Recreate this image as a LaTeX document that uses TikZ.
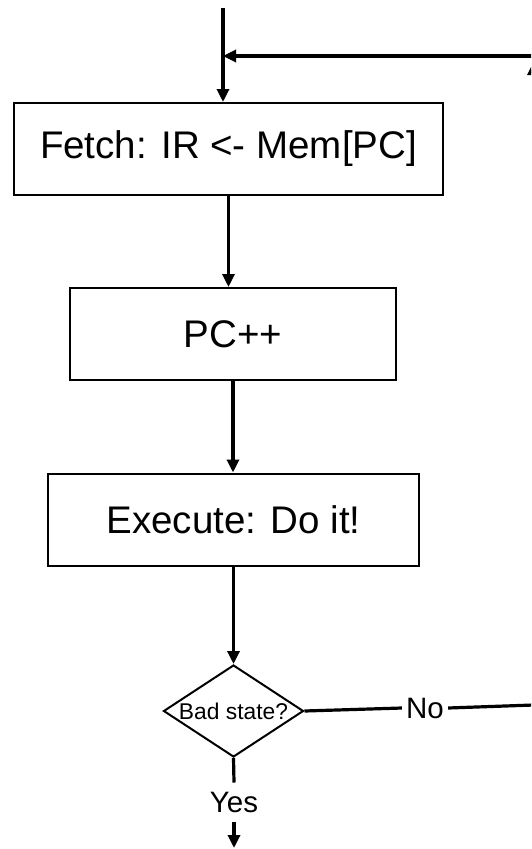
\documentclass[tikz,border=0pt]{standalone}
\usepackage{fontspec}
\setmainfont{Liberation Sans}
\usetikzlibrary{arrows.meta,shapes.geometric}

\tikzset{
  box/.style={draw, line width=2pt, minimum height=92pt, inner sep=0pt,
    font=\fontsize{38.5pt}{44pt}\selectfont},
  ask/.style={draw, diamond, shape aspect=1.52, line width=2pt, minimum width=140pt,
    minimum height=92pt, inner sep=0pt, font=\fontsize{22.8pt}{26pt}\selectfont},
  lbl/.style={inner xsep=4pt, inner ysep=9pt, font=\fontsize{29.5pt}{34pt}\selectfont},
  wire/.style={line width=3.2pt},
  flow/.style={wire, -{Triangle[length=13pt,width=12pt]}}
}

\begin{document}
\begin{tikzpicture}[x=1pt,y=-1pt]
  \clip (0,0) rectangle (531,849);   %Rand
  \node[box, minimum width=429pt] (fetch) at (228.5,149) {Fetch: IR <- Mem[PC]};
  \node[box, minimum width=326pt] (pc) at (233,334) {PC++};
  \node[box, minimum width=371pt] (exec) at (233.5,519.5) {Execute: Do it!};
  \node[ask] (bad) at (233.5,711) {Bad state?};
  \node[lbl] (no) at (425,708) {No};
  \node[lbl] (yes) at (234,802) {Yes};
  \coordinate (start) at (223,8);
  \coordinate (join) at (223,56);
  \coordinate (back) at (560,56);
  \coordinate (turn) at (533.5,705);
  \coordinate (up) at (533.5,62);
  \coordinate (out) at (234,848);
  \draw [flow] (start) -- (start |- fetch.north);       %Eingang
  \draw [flow] (back) -- (join);                       %Ruecksprung
  \draw [flow] (fetch.south) -- (fetch.south |- pc.north);
  \draw [flow] (pc.south) -- (pc.south |- exec.north);
  \draw [flow] (exec.south) -- (bad.north);
  \draw [wire] (bad.east) -- (no.west);                 %Nein
  \draw [flow] (no.east) -- (turn) -- (up);
  \draw [wire] (bad.south) -- (yes.north);              %Ja
  \draw [flow] (yes.south) -- (out);
\end{tikzpicture}
\end{document}
